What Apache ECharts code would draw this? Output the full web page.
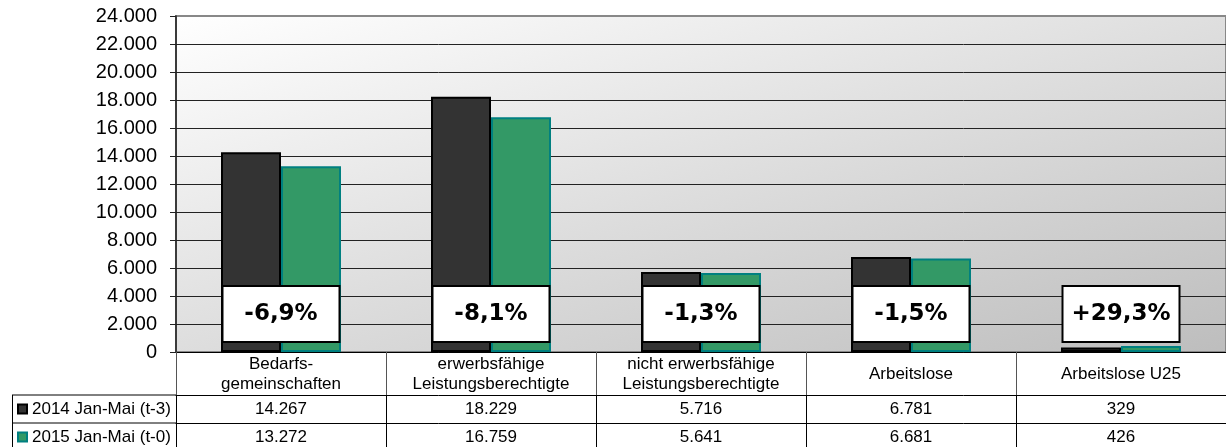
<!DOCTYPE html>
<html>
<head>
<meta charset="utf-8">
<script src="https://cdn.jsdelivr.net/npm/echarts@6/dist/echarts.min.js"></script>
<style>html,body{margin:0;padding:0;background:#fff}#c{width:1226px;height:447px}</style>
</head>
<body>
<div id="c"></div>
<script>
const categories = ['Bedarfs-\ngemeinschaften', 'erwerbsfähige\nLeistungsberechtigte', 'nicht erwerbsfähige\nLeistungsberechtigte', 'Arbeitslose', 'Arbeitslose U25'];
const seriesNames = ['2014 Jan-Mai (t-3)', '2015 Jan-Mai (t-0)'];
const values2014 = [14267, 18229, 5716, 6781, 329];
const values2015 = [13272, 16759, 5641, 6681, 426];
const changeLabels = ['-6,9%', '-8,1%', '-1,3%', '-1,5%', '+29,3%'];
const yTicks = [0, 2000, 4000, 6000, 8000, 10000, 12000, 14000, 16000, 18000, 20000, 22000, 24000];

function de(v) {
  return String(Math.round(v)).replace(/\B(?=(\d{3})+(?!\d))/g, '.');
}

const LABEL_Y = 2714;
const FONT = 'Liberation Sans, Arial, sans-serif';

const chart = echarts.init(document.getElementById('c'));
const tableAxis = (data, offset, tickLen, tickColor) => ({
  type: 'category',
  data: data,
  position: 'bottom',
  offset: offset,
  axisLine: { show: true, lineStyle: { color: '#000', width: 1 } },
  axisTick: { show: true, interval: 0, length: tickLen, alignWithLabel: false, lineStyle: { color: tickColor, width: 1 } },
  axisLabel: { interval: 0, fontSize: 17, lineHeight: 20, color: '#000', fontFamily: FONT, verticalAlign: 'middle', margin: Math.round(tickLen / 2) },
  splitLine: { show: false }
});

chart.setOption({
  animation: false,
  grid: {
    left: 176, top: 16, width: 1070, height: 336,
    show: true,
    borderColor: '#888', borderWidth: 2,
    backgroundColor: new echarts.graphic.LinearGradient(0, 0, 0.18, 1.82, [
      { offset: 0, color: '#ffffff' },
      { offset: 1, color: '#bcbcbc' }
    ])
  },
  legend: {
    orient: 'vertical',
    left: 17, top: 399, padding: 0,
    itemWidth: 9, itemHeight: 9, itemGap: 8,
    icon: 'rect',
    selectedMode: false,
    textStyle: { fontSize: 17, lineHeight: 20, color: '#000', fontFamily: FONT },
    data: seriesNames
  },
  xAxis: [
    tableAxis(categories, 0, 43, '#555'),
    tableAxis(values2014.map(de), 43, 28, '#000'),
    tableAxis(values2015.map(de), 71, 28, '#000')
  ],
  yAxis: {
    type: 'value',
    min: yTicks[0], max: yTicks[yTicks.length - 1], interval: yTicks[1] - yTicks[0],
    axisLine: { show: true, lineStyle: { color: '#222', width: 1.5 } },
    axisTick: { show: true, length: 6, lineStyle: { color: '#222' } },
    axisLabel: { fontSize: 20, color: '#000', fontFamily: FONT, margin: 19, formatter: de },
    splitLine: { show: true, showMaxLine: false, lineStyle: { color: '#222', width: 1 } }
  },
  series: [
    {
      name: seriesNames[0], type: 'bar', xAxisIndex: 0,
      data: values2014, barWidth: 60, barGap: '0%',
      itemStyle: { color: '#333333', borderColor: '#000', borderWidth: 2 }
    },
    {
      name: seriesNames[1], type: 'bar', xAxisIndex: 0,
      data: values2015, barWidth: 60, barGap: '0%',
      itemStyle: { color: '#339966', borderColor: '#008080', borderWidth: 2 }
    },
    {
      type: 'scatter', xAxisIndex: 0, z: 10,
      symbolSize: 2,
      itemStyle: { color: 'rgba(0,0,0,0)', opacity: 1 },
      data: changeLabels.map(() => LABEL_Y),
      label: {
        show: true, position: 'inside', opacity: 1,
        formatter: p => changeLabels[p.dataIndex],
        fontFamily: 'DejaVu Sans, Verdana, sans-serif', fontWeight: 'bold', fontSize: 23, color: '#000',
        backgroundColor: '#fff', borderColor: '#000', borderWidth: 2,
        width: 115, height: 30, lineHeight: 30, align: 'center', verticalAlign: 'middle',
        padding: [12, 0]
      },
      emphasis: { disabled: true }
    }
  ],
  graphic: [
    { type: 'line', shape: { x1: 12, y1: 395, x2: 176, y2: 395 }, style: { stroke: '#000', lineWidth: 1 } },
    { type: 'line', shape: { x1: 12, y1: 423, x2: 176, y2: 423 }, style: { stroke: '#000', lineWidth: 1 } },
    { type: 'line', shape: { x1: 12.5, y1: 395, x2: 12.5, y2: 447 }, style: { stroke: '#000', lineWidth: 1 } }
  ]
});
</script>
</body>
</html>
